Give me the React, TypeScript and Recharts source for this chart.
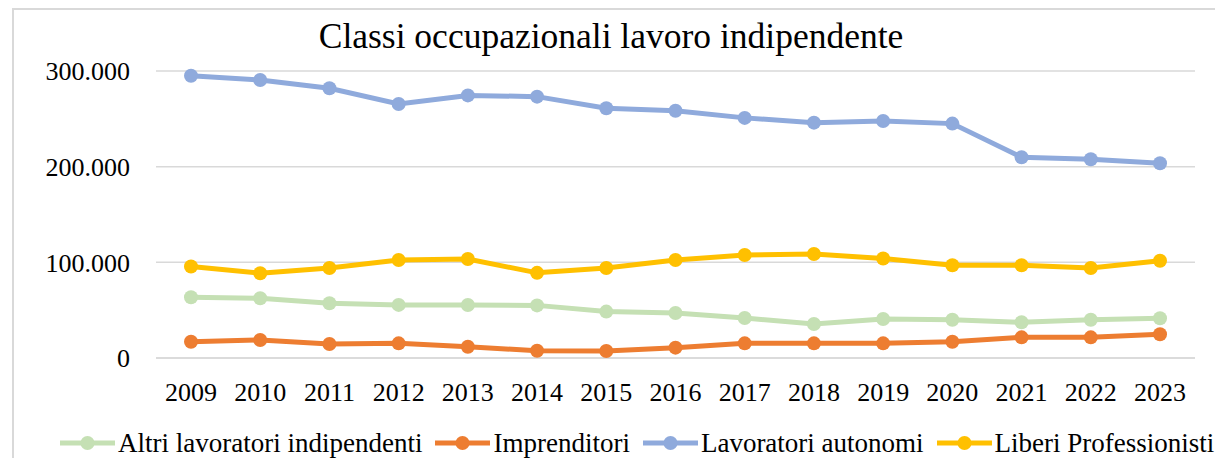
import React from "react";
import { LineChart, Line, XAxis, YAxis, CartesianGrid } from "recharts";

const years = ["2009","2010","2011","2012","2013","2014","2015","2016","2017","2018","2019","2020","2021","2022","2023"];
const altri = [63500, 62500, 57200, 55500, 55400, 55000, 48500, 47000, 41800, 35500, 40800, 40000, 37300, 40000, 41500];
const imprenditori = [17000, 18800, 14600, 15300, 11800, 7600, 7300, 10800, 15300, 15300, 15300, 17000, 21600, 21600, 24800];
const autonomi = [295000, 290600, 282000, 265500, 274500, 273200, 261000, 258500, 251000, 246000, 247700, 245000, 209800, 207700, 203500];
const liberi = [95700, 88600, 94000, 102400, 103500, 89000, 94000, 102400, 107600, 108700, 104000, 97000, 97000, 94000, 101700];
const yTicks = [0, 100000, 200000, 300000];

const seriesDefs = [
  { key: "altri", name: "Altri lavoratori indipendenti", color: "#C5E0B4", values: altri },
  { key: "imprenditori", name: "Imprenditori", color: "#ED7D31", values: imprenditori },
  { key: "autonomi", name: "Lavoratori autonomi", color: "#8FAADC", values: autonomi },
  { key: "liberi", name: "Liberi Professionisti", color: "#FFC000", values: liberi },
];

const data = years.map((y, i) => {
  const row: Record<string, string | number> = { year: y };
  seriesDefs.forEach((s) => { row[s.key] = s.values[i]; });
  return row;
});

const FONT = "'Liberation Serif', 'Times New Roman', serif";

const fmt = (v: number) => (v === 0 ? "0" : v.toLocaleString("it-IT"));

export default function App() {
  return (
    <div style={{ position: "fixed", left: 0, top: 0, width: 1215, height: 458, background: "#fff", overflow: "hidden", fontFamily: FONT }}>
      <div style={{ position: "absolute", left: 13, top: 8, width: 1202, height: 1.5, background: "#D9D9D9" }} />
      <div style={{ position: "absolute", left: 12, top: 8, width: 1.5, height: 450, background: "#D9D9D9" }} />
      <div style={{ position: "absolute", left: 0, width: 1222, top: 16, textAlign: "center", fontSize: 35.5, lineHeight: "40px", color: "#000", whiteSpace: "nowrap" }}>
        Classi occupazionali lavoro indipendente
      </div>
      <div style={{ position: "absolute", left: 0, top: 0 }}>
        <LineChart width={1215} height={458} data={data} margin={{ top: 71, right: 20, left: 10, bottom: 60 }}>
          <CartesianGrid vertical={false} stroke="#D9D9D9" strokeWidth={1.5} />
          <XAxis
            dataKey="year"
            height={40}
            padding={{ left: 35, right: 35 }}
            tickLine={false}
            axisLine={{ stroke: "#D9D9D9", strokeWidth: 1.5 }}
            tickSize={0}
            tickMargin={25}
            interval={0}
            tick={{ fill: "#000", fontSize: 26, fontFamily: FONT }}
          />
          <YAxis
            width={146}
            domain={[0, 300000]}
            ticks={yTicks}
            tickFormatter={fmt}
            axisLine={false}
            tickLine={false}
            tickSize={0}
            tickMargin={26}
            tick={{ fill: "#000", fontSize: 26, fontFamily: FONT }}
          />
          {seriesDefs.map((s) => (
            <Line
              key={s.key}
              type="linear"
              dataKey={s.key}
              name={s.name}
              stroke={s.color}
              strokeWidth={5}
              dot={{ r: 7, fill: s.color, stroke: s.color, strokeWidth: 0 }}
              activeDot={false}
              isAnimationActive={false}
            />
          ))}
        </LineChart>
      </div>
      <div style={{ position: "absolute", left: 60, top: 428, display: "flex", alignItems: "center", whiteSpace: "nowrap", fontSize: 27, lineHeight: "30px", color: "#000" }}>
        {seriesDefs.map((s) => (
          <div key={s.key} style={{ display: "flex", alignItems: "center", marginRight: 13 }}>
            <svg width={55} height={16} style={{ marginRight: 3, flex: "none" }}>
              <line x1={0} y1={8} x2={55} y2={8} stroke={s.color} strokeWidth={5} strokeLinecap="round" />
              <circle cx={27.5} cy={8} r={7} fill={s.color} />
            </svg>
            <span>{s.name}</span>
          </div>
        ))}
      </div>
    </div>
  );
}
